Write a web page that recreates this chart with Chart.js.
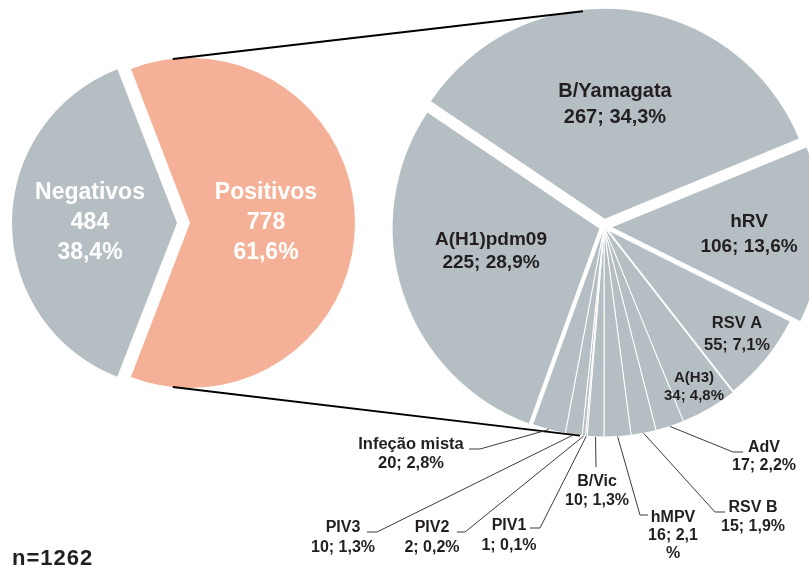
<!DOCTYPE html>
<html>
<head>
<meta charset="utf-8">
<script src="https://cdn.jsdelivr.net/npm/chart.js@4.4.1/dist/chart.umd.min.js"></script>
<style>
  html, body { margin: 0; padding: 0; background: #fff; }
  #wrap { position: relative; width: 809px; height: 569px; overflow: hidden; }
  #wrap canvas { position: absolute; left: 0; top: 0; }
</style>
</head>
<body>
<div id="wrap">
  <canvas id="totalChart" width="809" height="569"></canvas>
  <canvas id="virusChart" width="809" height="569"></canvas>
</div>
<script>
// Resultado das amostras
const totalLabels = ['Negativos', 'Positivos'];
const totalValues = [484, 778];
const totalPct = ['38,4%', '61,6%'];
const sampleTotal = 1262;

// Agentes detetados nas amostras positivas
const virusLabels = ['B/Yamagata', 'hRV', 'RSV A', 'A(H3)', 'AdV', 'RSV B', 'hMPV', 'B/Vic', 'PIV1', 'PIV2', 'PIV3', 'Infeção mista', 'A(H1)pdm09'];
const virusValues = [267, 106, 55, 34, 17, 15, 16, 10, 1, 2, 10, 20, 225];
const virusPct = ['34,3%', '13,6%', '7,1%', '4,8%', '2,2%', '1,9%', '2,1%', '1,3%', '0,1%', '0,2%', '1,3%', '2,8%', '28,9%'];

const GREY = '#b5bec2';
const SALMON = '#f5b197';
const INK = '#231f20';
const FONT = "'Liberation Sans', Arial, sans-serif";

// where each label of the right pie sits (centre x, first baseline, line height, size)
// leader: [elbow x, elbow y, end x]
const virusLayout = [
    { x: 615, y: 97, lh: 26, size: 20 },
    { x: 749, y: 227, lh: 25, size: 19 },
    { x: 737, y: 328, lh: 22, size: 16.5 },
    { x: 694, y: 382, lh: 18, size: 15 },
    { x: 764, y: 452, lh: 18, size: 16, leader: [733, 452, 743] },
    { x: 753, y: 512, lh: 19, size: 16, leader: [715, 512, 725] },
    { x: 673, y: 522, lh: 18, size: 16, leader: [640, 515, 648], split: true },
    { x: 597, y: 486, lh: 19, size: 16, leader: [596, 467, 596] },
    { x: 509, y: 530, lh: 20, size: 16, leader: [540, 528, 530] },
    { x: 432, y: 532, lh: 20, size: 16, leader: [465, 532, 457] },
    { x: 343, y: 532, lh: 20, size: 16, leader: [377, 532, 367] },
    { x: 411, y: 449, lh: 19, size: 16.5, leader: [480, 449, 469] },
    { x: 491, y: 245, lh: 23, size: 19 }
];

// exploded slices and white separators
const virusOffset = [33, 33, 0, 0, 0, 0, 0, 0, 0, 0, 0, 0, 12];
const virusBorder = [0, 0, 3, 1, 1, 1, 1, 1, 1, 1, 1, 1, 3];

function shiftedCentre(arc) {
    const mid = (arc.startAngle + arc.endAngle) / 2;
    const s = (arc.options.offset || 0) / 4;
    return [arc.x + Math.cos(mid) * s, arc.y + Math.sin(mid) * s];
}

function pointOnArc(arc, angle) {
    const c = shiftedCentre(arc);
    return [c[0] + Math.cos(angle) * arc.outerRadius, c[1] + Math.sin(angle) * arc.outerRadius];
}

function drawLines(ctx, x, y, lines, lh) {
    lines.forEach((t, i) => ctx.fillText(t, x, y + i * lh));
}

// Chart.js grows an offset slice's radius a bit; keep every slice on the same radius
const keepRadius = {
    id: 'keepRadius',
    beforeDatasetsDraw(chart) {
        chart.getDatasetMeta(0).data.forEach(arc => {
            const s = (arc.options.offset || 0) / 4;
            const fix = 1 - Math.sin(Math.min(Math.PI, arc.circumference || 0));
            arc.outerRadius = chart.options.radius - s * fix;
        });
    }
};

const totalLabelPlugin = {
    id: 'totalLabels',
    afterDatasetsDraw(chart) {
        const ctx = chart.ctx;
        ctx.save();
        ctx.fillStyle = '#fff';
        ctx.font = 'bold 23px ' + FONT;
        ctx.textAlign = 'center';
        const xs = [90, 266];
        totalLabels.forEach((name, i) => {
            drawLines(ctx, xs[i], 199, [name, String(totalValues[i]), totalPct[i]], 30);
        });
        ctx.restore();
    }
};

let totalChart = new Chart(document.getElementById('totalChart'), {
    type: 'pie',
    data: {
        labels: totalLabels,
        datasets: [{
            data: totalValues,
            backgroundColor: [GREY, SALMON],
            borderWidth: 0,
            offset: [52, 0],
            hoverOffset: 0
        }]
    },
    options: {
        responsive: false,
        animation: false,
        events: [],
        radius: 165,
        rotation: 201,
        layout: { padding: { left: 0, right: 429, top: 0, bottom: 123 } },
        plugins: { legend: { display: false }, tooltip: { enabled: false } }
    },
    plugins: [keepRadius, totalLabelPlugin]
});

const virusLabelPlugin = {
    id: 'virusLabels',
    afterDatasetsDraw(chart) {
        const ctx = chart.ctx;
        const arcs = chart.getDatasetMeta(0).data;
        const pos = totalChart.getDatasetMeta(0).data[1];
        ctx.save();

        // lines joining the two pies
        const a = 96 * Math.PI / 180;
        const t1 = pointOnArc(pos, -a), t2 = pointOnArc(arcs[0], -a);
        const b1 = pointOnArc(pos, a), b2 = pointOnArc(arcs[7], a + 0.01);
        ctx.strokeStyle = '#000';
        ctx.lineWidth = 2;
        ctx.beginPath();
        ctx.moveTo(t1[0], t1[1]); ctx.lineTo(t2[0], t2[1]);
        ctx.moveTo(b1[0], b1[1]); ctx.lineTo(b2[0], b2[1]);
        ctx.stroke();

        // leaders for the small slices
        ctx.strokeStyle = '#3a3a3a';
        ctx.lineWidth = 1;
        virusLayout.forEach((L, i) => {
            if (!L.leader) return;
            const arc = arcs[i];
            const start = pointOnArc(arc, (arc.startAngle + arc.endAngle) / 2);
            ctx.beginPath();
            ctx.moveTo(start[0], start[1]);
            ctx.lineTo(L.leader[0], L.leader[1]);
            ctx.lineTo(L.leader[2], L.leader[1]);
            ctx.stroke();
        });

        // labels
        ctx.fillStyle = INK;
        ctx.textAlign = 'center';
        virusLabels.forEach((name, i) => {
            const L = virusLayout[i];
            ctx.font = 'bold ' + L.size + 'px ' + FONT;
            let lines = [name, virusValues[i] + '; ' + virusPct[i]];
            if (L.split) {
                lines = [name, virusValues[i] + '; ' + virusPct[i].slice(0, -1), '%'];
            }
            drawLines(ctx, L.x, L.y, lines, L.lh);
        });

        ctx.textAlign = 'left';
        ctx.font = 'bold 22px ' + FONT;
        ctx.letterSpacing = '1px';
        ctx.fillText('n=' + sampleTotal, 12, 565);
        ctx.restore();
    }
};

let virusChart = new Chart(document.getElementById('virusChart'), {
    type: 'pie',
    data: {
        labels: virusLabels,
        datasets: [{
            data: virusValues,
            backgroundColor: GREY,
            borderColor: '#fff',
            borderWidth: virusBorder,
            offset: virusOffset,
            hoverOffset: 0
        }]
    },
    options: {
        responsive: false,
        animation: false,
        events: [],
        radius: 210,
        rotation: -56,
        layout: { padding: { left: 399, right: 0, top: 0, bottom: 115 } },
        plugins: { legend: { display: false }, tooltip: { enabled: false } }
    },
    plugins: [keepRadius, virusLabelPlugin]
});
</script>
</body>
</html>
